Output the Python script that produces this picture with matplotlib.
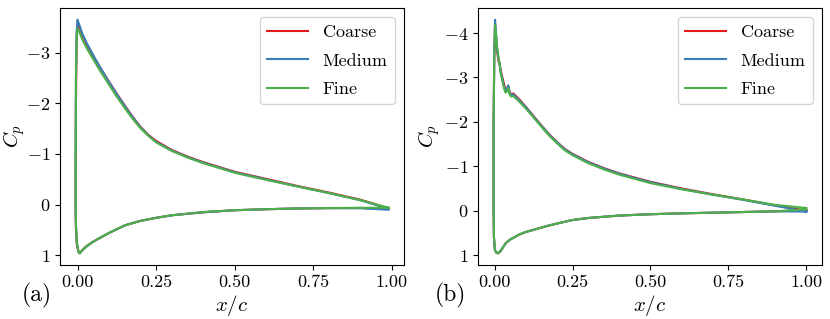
import matplotlib
matplotlib.use("Agg")
import matplotlib.pyplot as plt

plt.rcParams['font.family'] = 'serif'
plt.rcParams['font.serif'] = ['cmr10', 'DejaVu Serif']
plt.rcParams['mathtext.fontset'] = 'cm'
plt.rcParams['axes.formatter.use_mathtext'] = True
plt.rcParams['axes.unicode_minus'] = True

series_names = ["Coarse", "Medium", "Fine"]
series_colors = ["#e41a1c", "#377eb8", "#4daf4a"]

# ---------------- panel (a) ----------------
xa = [0.99, 0.9, 0.8, 0.7, 0.6, 0.5, 0.4, 0.35, 0.3, 0.25, 0.225, 0.2, 0.175, 0.15,
      0.125, 0.1, 0.07, 0.05, 0.03, 0.015, 0.005, 0.0,
      -0.003, -0.005, -0.006, -0.006, -0.005, -0.002, 0.003, 0.007,
      0.015, 0.03, 0.05, 0.07, 0.1, 0.15, 0.2, 0.25, 0.3, 0.4, 0.5, 0.6, 0.7,
      0.8, 0.9, 0.99]
cpa_coarse = [0.07, -0.10, -0.24, -0.37, -0.51, -0.65, -0.84, -0.95, -1.08, -1.26,
              -1.38, -1.54, -1.74, -1.96, -2.19, -2.43, -2.72, -2.93, -3.15, -3.34,
              -3.52, -3.60,
              -3.2, -2.0, -0.5, 0.15, 0.5, 0.8, 0.93, 0.96,
              0.9, 0.81, 0.73, 0.66, 0.56, 0.41, 0.32, 0.26, 0.21, 0.15, 0.11,
              0.09, 0.075, 0.068, 0.066, 0.08]
cpa_medium = [0.08, -0.09, -0.23, -0.36, -0.50, -0.64, -0.83, -0.94, -1.07, -1.24,
              -1.37, -1.53, -1.73, -1.95, -2.18, -2.42, -2.73, -2.95, -3.18, -3.38,
              -3.56, -3.65,
              -3.4, -2.5, -1.0, 0.0, 0.4, 0.75, 0.93, 0.96,
              0.9, 0.82, 0.73, 0.66, 0.56, 0.41, 0.32, 0.26, 0.21, 0.15, 0.11,
              0.09, 0.075, 0.07, 0.07, 0.1]
cpa_fine = [0.06, -0.09, -0.23, -0.36, -0.49, -0.63, -0.82, -0.93, -1.06, -1.23,
            -1.36, -1.51, -1.70, -1.91, -2.13, -2.37, -2.66, -2.87, -3.08, -3.26,
            -3.42, -3.48,
            -3.3, -2.5, -1.0, 0.0, 0.4, 0.75, 0.93, 0.96,
            0.9, 0.81, 0.73, 0.66, 0.56, 0.41, 0.32, 0.26, 0.21, 0.145, 0.11,
            0.09, 0.075, 0.066, 0.062, 0.06]

# ---------------- panel (b) ----------------
xb = [1.0, 0.9, 0.8, 0.7, 0.6, 0.5, 0.4, 0.35, 0.3, 0.25, 0.225, 0.2, 0.175, 0.15,
      0.125, 0.1, 0.08, 0.06,
      0.052, 0.048, 0.044, 0.04, 0.035, 0.03, 0.025, 0.02, 0.016, 0.012, 0.008,
      0.005, 0.0015,
      -0.001, -0.003, -0.003, -0.002, 0.001, 0.005, 0.011,
      0.02, 0.036, 0.05, 0.078, 0.1, 0.163, 0.2, 0.25, 0.3, 0.4, 0.5, 0.6, 0.7,
      0.8, 0.9, 1.0]
cpb_coarse = [0.0, -0.12, -0.25, -0.37, -0.50, -0.65, -0.84, -0.96, -1.10, -1.28,
              -1.39, -1.55, -1.72, -1.92, -2.13, -2.34, -2.50, -2.64,
              -2.62, -2.68, -2.80, -2.74, -2.72,
              -2.86, -3.00, -3.15, -3.30, -3.38, -3.60, -3.90, -4.20,
              -3.4, -2.0, 0.0, 0.6, 0.88, 0.94, 0.96,
              0.90, 0.73, 0.65, 0.54, 0.48, 0.355, 0.29, 0.21, 0.165, 0.11, 0.08,
              0.06, 0.045, 0.03, 0.015, -0.01]
cpb_medium = [0.02, -0.11, -0.24, -0.36, -0.49, -0.64, -0.83, -0.95, -1.09, -1.27,
              -1.38, -1.54, -1.71, -1.91, -2.12, -2.33, -2.48, -2.62,
              -2.60, -2.66, -2.82, -2.75, -2.70,
              -2.80, -2.97, -3.12, -3.32, -3.45, -3.65, -3.95, -4.30,
              -3.5, -2.0, 0.0, 0.6, 0.88, 0.94, 0.96,
              0.90, 0.73, 0.65, 0.54, 0.48, 0.355, 0.29, 0.21, 0.165, 0.11, 0.08,
              0.06, 0.045, 0.03, 0.015, 0.02]
cpb_fine = [-0.06, -0.13, -0.25, -0.36, -0.48, -0.62, -0.81, -0.93, -1.07, -1.25,
            -1.36, -1.52, -1.69, -1.89, -2.10, -2.30, -2.45, -2.58,
            -2.57, -2.62, -2.76, -2.68, -2.66,
            -2.76, -2.92, -3.08, -3.30, -3.48, -3.70, -3.95, -4.18,
            -3.5, -2.0, 0.0, 0.6, 0.88, 0.94, 0.96,
            0.90, 0.73, 0.65, 0.54, 0.48, 0.355, 0.29, 0.21, 0.165, 0.11, 0.08,
            0.06, 0.045, 0.03, 0.015, -0.03]

xticks = [0.0, 0.25, 0.5, 0.75, 1.0]
yticks_a = [-3, -2, -1, 0, 1]
yticks_b = [-4, -3, -2, -1, 0, 1]
panel_labels = ["(a)", "(b)"]

W, H = 830, 319
fig = plt.figure(figsize=(W / 100, H / 100), dpi=100)
ax_a = fig.add_axes([60 / W, 1 - 265 / H, 344 / W, 257 / H])
ax_b = fig.add_axes([478 / W, 1 - 265 / H, 344 / W, 257 / H])

panels = [
    (ax_a, xa, [cpa_coarse, cpa_medium, cpa_fine], yticks_a, (27 - 60) / 344),
    (ax_b, xb, [cpb_coarse, cpb_medium, cpb_fine], yticks_b, (442 - 478) / 344),
]

for ax, x, cps, yt, ylx in panels:
    for name, col, cp in zip(series_names, series_colors, cps):
        ax.plot(x, cp, color=col, lw=1.5, label=name)
    ax.invert_yaxis()
    ax.set_xticks(xticks)
    ax.set_xticklabels(["0.00", "0.25", "0.50", "0.75", "1.00"])
    ax.set_yticks(yt)
    ax.set_yticklabels([("$-%d$" % -v) if v < 0 else ("$%d$" % v) for v in yt])
    ax.tick_params(labelsize=13)
    ax.set_xlabel(r"$x/c$", fontsize=15, labelpad=2)
    ax.set_ylabel(r"$C_p$", fontsize=15)
    ax.yaxis.set_label_coords(ylx, 0.5)
    ax.legend(loc="upper right", fontsize=13, handlelength=2.3, labelspacing=0.72)

fig.text(36.7 / W, 1 - 295 / H, panel_labels[0], fontsize=17, ha="center", va="center")
fig.text(450.7 / W, 1 - 295 / H, panel_labels[1], fontsize=17, ha="center", va="center")

fig.savefig("out.png", dpi=100)
